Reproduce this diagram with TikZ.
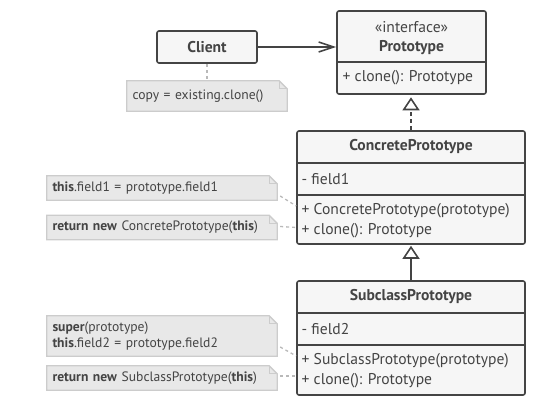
\documentclass[tikz,border=0pt]{standalone}
\usepackage{fontspec}
\setmainfont{PT Sans}
\usetikzlibrary{arrows.meta,calc,backgrounds}

\definecolor{ink}{RGB}{68,68,68}
\definecolor{boxfill}{RGB}{246,246,246}
\definecolor{notefill}{RGB}{232,232,232}
\definecolor{noteedge}{RGB}{204,204,204}
\definecolor{linkgray}{RGB}{185,185,185}

\tikzset{
  cls/.style={draw=ink, fill=boxfill, line width=1.6pt, rounded corners=2pt, inner sep=0pt},
  sep/.style={draw=ink, line width=1.6pt},
  txt/.style={inner sep=0pt, text=ink, font=\fontsize{15.6}{18}\selectfont},
  title/.style={txt, font=\fontsize{15.6}{18}\selectfont\bfseries},
  member/.style={txt, anchor=west},
  note/.style={inner xsep=5.5pt, inner ysep=0pt, text=ink, text width=219pt, align=left,
    minimum height=24pt, font=\fontsize{13.6}{16.7}\selectfont},
  noteshape/.style={fill=notefill, draw=noteedge, line width=1.3pt},
  notelink/.style={draw=linkgray, line width=1.3pt, dash pattern=on 3pt off 3pt},
  assoc/.style={draw=ink, line width=1.6pt, -{Straight Barb[length=15pt, width=10pt, line width=1.6pt]}},
  realize/.style={draw=ink, line width=1.6pt, dash pattern=on 4pt off 3pt, shorten >=2.5pt,
    -{Triangle[open, length=13pt, width=17pt, fill=white, line width=1.6pt]}},
  inherit/.style={draw=ink, line width=1.6pt, shorten >=1pt,
    -{Triangle[open, length=13pt, width=17pt, fill=white, line width=1.6pt]}}
}

\begin{document}
\begin{tikzpicture}[x=1pt,y=1pt,yscale=-1]
    \useasboundingbox (0,0) rectangle (538,403);

    %Shape: class boxes
    \node[cls, minimum width=149pt, minimum height=83pt] (proto) at (411.5,52.5) {};
    \node[cls, minimum width=100pt, minimum height=32pt] (client) at (207,47) {};
    \node[cls, minimum width=228pt, minimum height=113pt] (cp) at (411,187.5) {};
    \node[cls, minimum width=228pt, minimum height=114pt] (sp) at (411,338) {};

    %Straight Lines: compartments
    \draw[sep] (proto.west |- 0,62) -- (proto.east |- 0,62);
    \draw[sep] (cp.west |- 0,163) -- (cp.east |- 0,163);
    \draw[sep] (cp.west |- 0,195) -- (cp.east |- 0,195);
    \draw[sep] (sp.west |- 0,313) -- (sp.east |- 0,313);
    \draw[sep] (sp.west |- 0,345) -- (sp.east |- 0,345);

    % Text Node
    \node[title] (clientname) at (client) {Client};
    % Text Node
    \node[txt] (protostereo) at (411.5,27) {«interface»};
    \node[title] (protoname) at (411.5,47.5) {Prototype};
    \node[member] (protoclone) at (342.5,78) {+ clone(): Prototype};
    % Text Node
    \node[title] (cpname) at (411,147) {ConcretePrototype};
    \node[member] (cpfield) at (301.5,179.5) {- field1};
    \node[member] (cpctor) at (301.5,211) {+ ConcretePrototype(prototype)};
    \node[member] (cpclone) at (301.5,230.5) {+ clone(): Prototype};
    % Text Node
    \node[title] (spname) at (411,297) {SubclassPrototype};
    \node[member] (spfield) at (301.5,329.5) {- field2};
    \node[member] (spctor) at (301.5,361) {+ SubclassPrototype(prototype)};
    \node[member] (spclone) at (301.5,380.5) {+ clone(): Prototype};

    % Notes
    \node[note, text width=149pt, minimum height=30pt] (n0) at (207,96) {copy = existing.clone()};
    \node[note] (n1) at (162,188) {\textbf{this}.field1 = prototype.field1};
    \node[note] (n2) at (162,227.5) {\textbf{return new} ConcretePrototype(\textbf{this})};
    \node[note, minimum height=40pt] (n3) at (162,336) {\textbf{super}(prototype)\\\textbf{this}.field2 = prototype.field2};
    \node[note] (n4) at (162,378) {\textbf{return new} SubclassPrototype(\textbf{this})};

    \begin{scope}[on background layer]
    \foreach \n in {n0,n1,n2,n3,n4} {
        \draw[noteshape] (\n.south west) -- (\n.north west) -- ($(\n.north east)+(-8,0)$)
            -- ($(\n.north east)+(0,8)$) -- (\n.south east) -- cycle;
        \draw[draw=noteedge, line width=1.3pt] ($(\n.north east)+(-8,0)$) -- ($(\n.north east)+(-8,8)$)
            -- ($(\n.north east)+(0,8)$);
    }
    \end{scope}

    % Connectors
    \draw[assoc] (client.east) -- (client.east -| proto.west);
    \draw[realize] (cp.north) -- (cp.north |- proto.south);
    \draw[inherit] (sp.north) -- (cp.south);
    \coordinate (cpin) at (cp.west |- 0,206);
    \coordinate (spin) at (sp.west |- 0,356);
    \draw[notelink] (client.south) -- (client.south |- n0.north);
    \draw[notelink] ($(n1.east)+(3,8)$) -- (cpin);
    \draw[notelink] ($(n2.east)+(3,-1)$) -- (n2.east -| cp.west);
    \draw[notelink] ($(n3.east)+(3,11)$) -- (spin);
    \draw[notelink] ($(n4.east)+(3,-2)$) -- ($(n4.east -| sp.west)+(0,-2)$);

\end{tikzpicture}
\end{document}
